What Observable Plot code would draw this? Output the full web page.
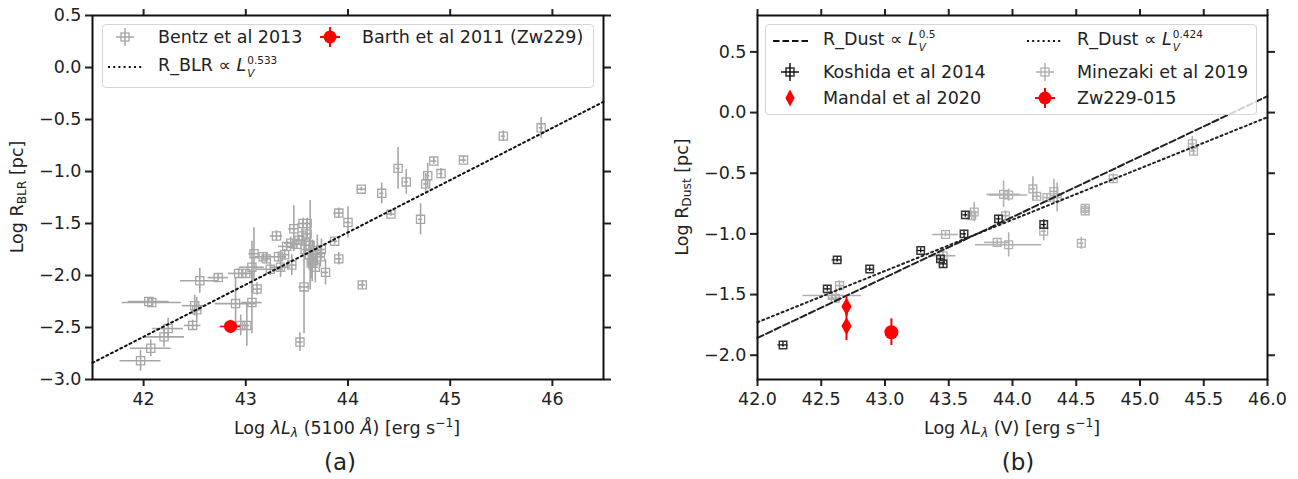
<!DOCTYPE html>
<html>
<head>
<meta charset="utf-8">
<script src="https://cdn.jsdelivr.net/npm/d3@7"></script>
<script src="https://cdn.jsdelivr.net/npm/@observablehq/plot@0.6"></script>
<style>
  body { margin: 0; background: #fff; font-family: "DejaVu Sans", sans-serif; color: #222; }
  #fig { position: relative; width: 1298px; height: 479px; overflow: hidden; }
  .panel { position: absolute; top: 0; }
  .lbl { position: absolute; white-space: nowrap; font-size: 17.5px; transform: translate(-50%, -50%); }
  .rot { transform: translate(-50%, -50%) rotate(-90deg); }
  .cap { font-size: 23px; }
  .legend { position: absolute; background: rgba(255,255,255,0.8); border: 1px solid #d6d6d6; border-radius: 4px; box-sizing: border-box; }
  .li { position: absolute; white-space: nowrap; font-size: 17.5px; transform: translateY(-50%); }
  .mk { position: absolute; overflow: visible; }
  .ss { display: inline-flex; flex-direction: column; font-size: 10.5px; line-height: 12.6px; vertical-align: 7px; margin-left: 1px; }
  .ss span { display: block; }
  sub.s { font-size: 0.7em; vertical-align: -0.25em; }
  sup.s { font-size: 0.7em; vertical-align: 0.55em; }
</style>
</head>
<body>
<div id="fig"></div>
<script>
// ---------------- Panel (a) data: Bentz et al 2013 ----------------
const bentzX    = [41.97, 42.07, 42.20, 42.24, 42.08, 42.05, 42.48, 42.50, 42.52, 42.55, 42.73, 42.90, 43.06, 42.95, 43.01, 42.93, 43.00, 43.06, 43.08, 43.17, 43.11, 43.30, 43.24, 43.34, 43.32, 43.57, 43.53, 43.44, 43.47, 43.56, 43.60, 43.63, 43.66, 43.68, 43.78, 43.73, 43.87, 43.91, 43.91, 44.00, 44.13, 44.14, 44.33, 44.42, 44.49, 44.57, 44.71, 44.76, 44.78, 44.84, 44.91, 45.13, 45.52, 45.89, 43.50, 43.55, 43.58, 43.62, 43.65, 43.70, 43.40, 43.38, 43.20, 43.45, 43.74, 43.60, 43.52, 43.64];
const bentzY    = [-2.82, -2.70, -2.59, -2.51, -2.26, -2.25, -2.48, -2.29, -2.33, -2.05, -2.02, -2.27, -2.26, -2.48, -2.48, -1.98, -1.98, -1.92, -1.79, -1.82, -2.13, -1.62, -1.94, -1.92, -1.82, -2.11, -2.64, -1.69, -1.55, -1.50, -1.50, -1.71, -1.79, -1.92, -1.97, -1.82, -1.67, -1.40, -1.84, -1.49, -1.17, -2.09, -1.21, -1.41, -0.97, -1.10, -1.46, -1.12, -1.04, -0.90, -1.02, -0.89, -0.66, -0.58, -1.70, -1.62, -1.75, -1.80, -1.86, -1.76, -1.72, -1.80, -1.84, -1.90, -1.75, -1.60, -1.66, -1.88];
const bentzXerr = [0.20, 0.20, 0.20, 0.15, 0.29, 0.20, 0.08, 0.12, 0.05, 0.19, 0.10, 0.20, 0.10, 0.08, 0.03, 0.10, 0.06, 0.12, 0.05, 0.08, 0.04, 0.06, 0.13, 0.10, 0.08, 0.05, 0.03, 0.06, 0.05, 0.05, 0.05, 0.04, 0.03, 0.03, 0.03, 0.05, 0.03, 0.05, 0.03, 0.03, 0.04, 0.03, 0.02, 0.04, 0.02, 0.02, 0.02, 0.02, 0.02, 0.03, 0.02, 0.03, 0.02, 0.02, 0.05, 0.03, 0.03, 0.03, 0.03, 0.03, 0.08, 0.05, 0.05, 0.05, 0.04, 0.04, 0.05, 0.03];
const bentzYerr = [0.10, 0.08, 0.10, 0.10, 0.03, 0.02, 0.05, 0.10, 0.12, 0.12, 0.03, 0.25, 0.30, 0.10, 0.20, 0.05, 0.04, 0.25, 0.25, 0.03, 0.06, 0.05, 0.06, 0.10, 0.05, 0.45, 0.09, 0.06, 0.22, 0.05, 0.05, 0.43, 0.12, 0.15, 0.12, 0.10, 0.03, 0.05, 0.06, 0.15, 0.02, 0.04, 0.10, 0.02, 0.20, 0.12, 0.15, 0.10, 0.12, 0.03, 0.05, 0.03, 0.05, 0.10, 0.05, 0.08, 0.10, 0.15, 0.20, 0.15, 0.05, 0.05, 0.05, 0.10, 0.10, 0.06, 0.05, 0.15];
// Barth et al 2011 (Zw229)
const barthX = [42.85], barthY = [-2.49], barthXerr = [0.1], barthYerr = [0.06];
// Fit line R_BLR ∝ L^0.533 (end points)
const fitAX = [41.5, 46.5], fitAY = [-2.84, -0.33];
const xTicksA = [42, 43, 44, 45, 46];
const yTicksA = [-3.0, -2.5, -2.0, -1.5, -1.0, -0.5, 0.0, 0.5];

// ---------------- Panel (b) data ----------------
const koshX    = [42.20, 42.625, 42.547, 42.88, 43.28, 43.435, 43.456, 43.62, 43.63, 43.89, 44.245];
const koshY    = [-1.915, -1.214, -1.453, -1.29, -1.137, -1.206, -1.247, -1.00, -0.843, -0.876, -0.923];
const koshXerr = [0.04, 0.04, 0.03, 0.03, 0.03, 0.03, 0.03, 0.02, 0.02, 0.02, 0.02];
const koshYerr = [0.02, 0.02, 0.02, 0.02, 0.02, 0.02, 0.03, 0.03, 0.02, 0.03, 0.04];
const mineX    = [42.643, 42.586, 42.61, 43.475, 43.456, 43.70, 43.68, 43.93, 43.97, 43.945, 43.88, 43.97, 44.16, 44.19, 44.27, 44.325, 44.35, 44.245, 44.57, 44.57, 44.54, 44.79, 45.41, 45.42];
const mineY    = [-1.426, -1.508, -1.53, -1.005, -1.18, -0.82, -0.85, -0.674, -0.68, -0.85, -1.07, -1.09, -0.629, -0.69, -0.70, -0.65, -0.70, -0.978, -0.81, -0.79, -1.077, -0.546, -0.258, -0.318];
const mineXerr = [0.03, 0.23, 0.05, 0.10, 0.10, 0.03, 0.03, 0.13, 0.15, 0.03, 0.10, 0.26, 0.02, 0.03, 0.03, 0.03, 0.03, 0.02, 0.03, 0.03, 0.02, 0.03, 0.02, 0.02];
const mineYerr = [0.04, 0.03, 0.02, 0.02, 0.03, 0.08, 0.04, 0.11, 0.05, 0.04, 0.02, 0.10, 0.10, 0.03, 0.03, 0.10, 0.12, 0.08, 0.04, 0.03, 0.05, 0.04, 0.06, 0.04];
const mandalX = [42.698, 42.698], mandalY = [-1.599, -1.76], mandalYerr = [0.08, 0.12];
const zwX = [43.05], zwY = [-1.81], zwXerr = [0.04], zwYerr = [0.11];
const fitB05X = [42.0, 46.0], fitB05Y = [-1.857, 0.135];
const fitB0424X = [42.0, 46.0], fitB0424Y = [-1.728, -0.038];
const xTicksB = [42.0, 42.5, 43.0, 43.5, 44.0, 44.5, 45.0, 45.5, 46.0];
const yTicksB = [-2.0, -1.5, -1.0, -0.5, 0.0, 0.5];

// ---------------- helpers ----------------
const rows = (xs, ys, xe, ye) => xs.map((x, i) => ({x, y: ys[i], xe: xe ? xe[i] : 0, ye: ye ? ye[i] : 0}));
const line = (xs, ys) => xs.map((x, i) => ({x, y: ys[i]}));
function errs(data, color, sw) {
  return [
    Plot.ruleY(data.filter(d => d.xe > 0), {y: "y", x1: d => d.x - d.xe, x2: d => d.x + d.xe, stroke: color, strokeWidth: sw}),
    Plot.ruleX(data.filter(d => d.ye > 0), {x: "x", y1: d => d.y - d.ye, y2: d => d.y + d.ye, stroke: color, strokeWidth: sw})
  ];
}
function axes(xt, yt, xf, yf) {
  const common = {tickSize: 7, strokeWidth: 2, label: null, fontSize: 17.5};
  return [
    Plot.axisX({...common, ticks: xt, anchor: "bottom", tickPadding: 6, tickFormat: xf}),
    Plot.axisX({...common, ticks: xt, anchor: "top", tickFormat: () => ""}),
    Plot.axisY({...common, ticks: yt, anchor: "left", tickPadding: 4, tickFormat: yf}),
    Plot.axisY({...common, ticks: yt, anchor: "right", tickFormat: () => ""}),
    Plot.frame({stroke: "#111", strokeWidth: 2})
  ];
}
const style = {fontFamily: "DejaVu Sans", fontSize: "17.5px", color: "#222", background: "transparent", overflow: "visible"};
const GRAY = "#a6a6a6";

const bentz = rows(bentzX, bentzY, bentzXerr, bentzYerr);
const barth = rows(barthX, barthY, barthXerr, barthYerr);

const plotA = Plot.plot({
  width: 650, height: 479, marginLeft: 92, marginRight: 47, marginTop: 15, marginBottom: 100,
  style,
  x: {domain: [41.5, 46.5]},
  y: {domain: [-3, 0.5]},
  marks: [
    ...errs(bentz, GRAY, 1.6),
    Plot.dot(bentz, {x: "x", y: "y", symbol: "square", r: 4.6, stroke: GRAY, fill: "none", strokeWidth: 1.3}),
    Plot.line(line(fitAX, fitAY), {x: "x", y: "y", stroke: "#111", strokeWidth: 2, strokeDasharray: "2,3.2"}),
    ...errs(barth, "red", 1.6),
    Plot.dot(barth, {x: "x", y: "y", r: 6.5, fill: "red", stroke: "none"}),
    ...axes(xTicksA, yTicksA, d3.format("d"), d3.format(".1f"))
  ]
});

const kosh = rows(koshX, koshY, koshXerr, koshYerr);
const mine = rows(mineX, mineY, mineXerr, mineYerr);
const mandal = rows(mandalX, mandalY, null, mandalYerr);
const zw = rows(zwX, zwY, zwXerr, zwYerr);

const plotB = Plot.plot({
  width: 648, height: 479, marginLeft: 107, marginRight: 31, marginTop: 15, marginBottom: 100,
  style,
  x: {domain: [42, 46]},
  y: {domain: [-2.2, 0.8]},
  marks: [
    ...errs(mine, "#b0b0b0", 1.6),
    Plot.dot(mine, {x: "x", y: "y", symbol: "square", r: 4.4, stroke: "#b0b0b0", fill: "none", strokeWidth: 1.3}),
    ...errs(kosh, "#111", 1.3),
    Plot.dot(kosh, {x: "x", y: "y", symbol: "square", r: 4.2, stroke: "#333", fill: "none", strokeWidth: 1.5}),
    Plot.line(line(fitB05X, fitB05Y), {x: "x", y: "y", stroke: "#222", strokeWidth: 2, strokeDasharray: "6.5,3"}),
    Plot.line(line(fitB0424X, fitB0424Y), {x: "x", y: "y", stroke: "#222", strokeWidth: 2, strokeDasharray: "2,3.2"}),
    ...errs(mandal, "red", 2),
    Plot.dot(mandal, {x: "x", y: "y", symbol: "diamond", r: 5.4, fill: "red", stroke: "none"}),
    ...errs(zw, "red", 2),
    Plot.dot(zw, {x: "x", y: "y", r: 7, fill: "red", stroke: "none"}),
    ...axes(xTicksB, yTicksB, d3.format(".1f"), d3.format(".1f"))
  ]
});

const fig = document.getElementById("fig");
plotA.classList.add("panel"); plotA.style.left = "0px";
plotB.classList.add("panel"); plotB.style.left = "650px";
fig.appendChild(plotA);
fig.appendChild(plotB);

// ---------------- labels & legends (HTML overlays) ----------------
function add(html, cls, left, top, extra) {
  const d = document.createElement("div");
  d.className = cls; d.innerHTML = html;
  d.style.left = left + "px"; d.style.top = top + "px";
  if (extra) Object.assign(d.style, extra);
  fig.appendChild(d);
  return d;
}
add('Log <i>λL</i><sub class="s"><i>λ</i></sub> (5100 <i>Å</i>) [erg s<sup class="s">−1</sup>]', "lbl", 347, 428);
add('Log <i>λL</i><sub class="s"><i>λ</i></sub> (V) [erg s<sup class="s">−1</sup>]', "lbl", 1012, 428);
add('Log R<sub class="s">BLR</sub> [pc]', "lbl rot", 18, 197);
add('Log R<sub class="s">Dust</sub> [pc]', "lbl rot", 683, 197);
add('(a)', "lbl cap", 340, 462);
add('(b)', "lbl cap", 1018, 462);

function legendBox(left, top, w, h) { add("", "legend", left, top, {width: w + "px", height: h + "px"}); }
function mkSvg(cx, cy, inner) {
  const s = `<svg class="mk" width="44" height="24" viewBox="-22 -12 44 24" style="left:${cx - 22}px;top:${cy - 12}px">${inner}</svg>`;
  const d = document.createElement("div"); d.innerHTML = s; fig.appendChild(d.firstChild);
}
const crossSq = (c, sc) => `<line x1="-9" x2="9" y1="0" y2="0" stroke="${c}" stroke-width="1.5"/><line y1="-9" y2="9" x1="0" x2="0" stroke="${c}" stroke-width="1.5"/><rect x="-4" y="-4" width="8" height="8" fill="none" stroke="${sc}" stroke-width="1.3"/>`;
const redDot = `<line x1="-10" x2="10" y1="0" y2="0" stroke="red" stroke-width="2"/><line y1="-10" y2="10" x1="0" x2="0" stroke="red" stroke-width="2"/><circle r="6.5" fill="red"/>`;
const dotted = `<line x1="-17" x2="17" y1="0" y2="0" stroke="#111" stroke-width="2" stroke-dasharray="2,3.2"/>`;
const dashed = `<line x1="-17" x2="18" y1="0" y2="0" stroke="#111" stroke-width="2" stroke-dasharray="6.5,3"/>`;
const thinDiamond = `<path d="M0,-8.5 L4.6,0 L0,8.5 L-4.6,0 Z" fill="red"/>`;
const prop = (e) => `<i>L</i><span class="ss"><span>${e}</span><span><i>V</i></span></span>`;

// legend (a)
legendBox(102, 24, 492, 64);
mkSvg(125, 37, crossSq(GRAY, GRAY));
add('Bentz et al 2013', "li", 158, 37);
mkSvg(330, 37, redDot);
add('Barth et al 2011 (Zw229)', "li", 362, 37);
mkSvg(125, 67, dotted);
add('R_BLR ∝ ' + prop('0.533'), "li", 158, 67);

// legend (b)
legendBox(765, 24, 492, 91);
mkSvg(790, 41, dashed);
add('R_Dust ∝ ' + prop('0.5'), "li", 823, 41);
mkSvg(1044, 41, dotted);
add('R_Dust ∝ ' + prop('0.424'), "li", 1077, 41);
mkSvg(790, 72, crossSq("#111", "#111"));
add('Koshida et al 2014', "li", 823, 72);
mkSvg(1045, 72, crossSq("#b0b0b0", "#b0b0b0"));
add('Minezaki et al 2019', "li", 1077, 72);
mkSvg(790, 98, thinDiamond);
add('Mandal et al 2020', "li", 823, 98);
mkSvg(1045, 98, redDot);
add('Zw229-015', "li", 1077, 98);
</script>
</body>
</html>
